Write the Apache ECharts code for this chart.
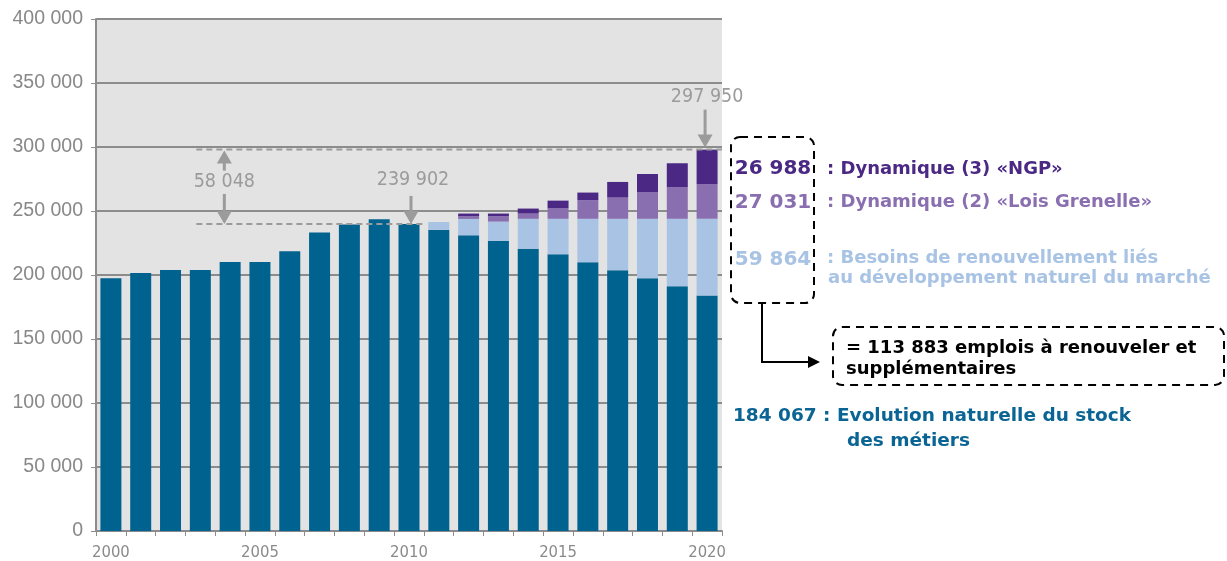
<!DOCTYPE html>
<html>
<head>
<meta charset="utf-8">
<script src="https://cdn.jsdelivr.net/npm/echarts@6/dist/echarts.min.js"></script>
<style>
  html, body { margin: 0; padding: 0; background: #ffffff; }
  #chart { width: 1227px; height: 561px; }
</style>
</head>
<body>
<div id="chart"></div>
<script>
// ---- Data ----
const years = ['2000','2001','2002','2003','2004','2005','2006','2007','2008','2009','2010',
               '2011','2012','2013','2014','2015','2016','2017','2018','2019','2020'];
// Evolution naturelle du stock des métiers
const stock = [197400, 201500, 203900, 203900, 210200, 210200, 218600, 233300, 239500, 243500, 239902,
               235200, 231000, 226600, 220600, 216200, 209900, 203700, 197400, 191200, 184067];
// Besoins de renouvellement liés au développement naturel du marché
const renewal = [null, null, null, null, null, null, null, null, null, null, null,
                 6200, 12800, 15100, 23300, 27700, 34000, 40200, 46500, 52700, 59864];
// Dynamique (2) « Lois Grenelle »
const grenelle = [null, null, null, null, null, null, null, null, null, null, null,
                  null, 2100, 4200, 4100, 8200, 14500, 16600, 20700, 24600, 27031];
// Dynamique (3) « NGP »
const ngp = [null, null, null, null, null, null, null, null, null, null, null,
             null, 2100, 2100, 3900, 6000, 6000, 12200, 14300, 18800, 26988];
const yTicks = [0, 50000, 100000, 150000, 200000, 250000, 300000, 350000, 400000];
const labelYears = ['2000', '2005', '2010', '2015', '2020'];

const legendTexts = {
  ngp: ': Dynamique (3) «NGP»',
  grenelle: ': Dynamique (2) «Lois Grenelle»',
  renewal1: ': Besoins de renouvellement liés',
  renewal2: 'au développement naturel du marché',
  stock1: ' : Evolution naturelle du stock',
  stock2: 'des métiers',
  total1: ' emplois à renouveler et',
  total2: 'supplémentaires'
};

// ---- Helpers ----
const fmt = v => String(Math.round(v)).replace(/\B(?=(\d{3})+(?!\d))/g, ' ');
const C_STOCK = '#00628f', C_REN = '#a8c3e3', C_GREN = '#8a6fb0', C_NGP = '#4a2884';
const GRAY = '#9b9b9b';
const NARROW = '"DejaVu Sans Condensed", "Liberation Sans Narrow", "Roboto", sans-serif';

const chart = echarts.init(document.getElementById('chart'), null, { renderer: 'canvas' });

const barCommon = { type: 'bar', stack: 'total', barWidth: 21 };

chart.setOption({
  animation: false,
  backgroundColor: '#ffffff',
  grid: { left: 96, right: 505, top: 19, bottom: 30, show: true, backgroundColor: '#e3e3e3', borderWidth: 0 },
  xAxis: {
    type: 'category', data: years, boundaryGap: true,
    axisLine: { lineStyle: { color: '#8c8c8c', width: 2 } },
    axisTick: { show: true, interval: 0, length: 5, lineStyle: { color: '#8c8c8c', width: 1 } },
    axisLabel: {
      interval: 0, margin: 13,
      formatter: v => labelYears.indexOf(v) >= 0 ? v : '',
      color: '#8a8a8a', fontFamily: NARROW, fontSize: 16.5
    }
  },
  yAxis: {
    type: 'value', min: 0, max: 400000, interval: 50000,
    axisLine: { show: true, lineStyle: { color: '#8c8c8c', width: 2 } },
    axisTick: { show: true, length: 5, lineStyle: { color: '#8c8c8c', width: 1 } },
    axisLabel: { formatter: v => fmt(v), color: '#888888', fontFamily: '"Liberation Sans", Arial, sans-serif', fontSize: 19.5, margin: 13 },
    splitLine: { show: true, lineStyle: { color: '#8c8c8c', width: 2 } }
  },
  series: [
    Object.assign({}, barCommon, { name: 'stock', data: stock, itemStyle: { color: C_STOCK } }),
    Object.assign({}, barCommon, { name: 'renewal', data: renewal, itemStyle: { color: C_REN } }),
    Object.assign({}, barCommon, { name: 'grenelle', data: grenelle, itemStyle: { color: C_GREN } }),
    Object.assign({}, barCommon, { name: 'ngp', data: ngp, itemStyle: { color: C_NGP } })
  ]
});

// ---- Annotations computed from scales ----
const last = years.length - 1;
const total2020 = stock[last] + renewal[last] + grenelle[last] + ngp[last];
const ref2010 = stock[years.indexOf('2010')];
const yPx = v => chart.convertToPixel({ yAxisIndex: 0 }, v);
const xPx = c => chart.convertToPixel({ xAxisIndex: 0 }, c);

const yTop = yPx(total2020), yBot = yPx(ref2010);
const dashStart = xPx('2003') - 4;
const plotRight = 722;
const g = [];
const dashStyle = { stroke: GRAY, lineWidth: 2, lineDash: [6, 4] };
g.push({ type: 'line', shape: { x1: dashStart, y1: yTop, x2: plotRight, y2: yTop }, style: dashStyle, z: 10 });
g.push({ type: 'line', shape: { x1: dashStart, y1: yBot, x2: xPx('2010') + 14, y2: yBot }, style: dashStyle, z: 10 });

function downArrow(x, yStart, yTip) {
  g.push({ type: 'line', shape: { x1: x, y1: yStart, x2: x, y2: yTip - 11 }, style: { stroke: GRAY, lineWidth: 3 }, z: 11 });
  g.push({ type: 'polygon', shape: { points: [[x - 7.5, yTip - 13], [x + 7.5, yTip - 13], [x, yTip]] }, style: { fill: GRAY }, z: 11 });
}
function upArrow(x, yStart, yTip) {
  g.push({ type: 'line', shape: { x1: x, y1: yStart, x2: x, y2: yTip + 11 }, style: { stroke: GRAY, lineWidth: 3 }, z: 11 });
  g.push({ type: 'polygon', shape: { points: [[x - 7.5, yTip + 13], [x + 7.5, yTip + 13], [x, yTip]] }, style: { fill: GRAY }, z: 11 });
}
const annFont = { fill: GRAY, fontFamily: NARROW, fontSize: 19.5, textAlign: 'center', textVerticalAlign: 'middle' };

// 297 950
const x2020 = xPx('2020') - 2;
g.push({ type: 'text', x: x2020 + 2, y: yTop - 53, style: Object.assign({ text: fmt(total2020) }, annFont), z: 12 });
downArrow(x2020, yTop - 40, yTop - 2);
// 239 902
const x2010 = xPx('2010') + 2;
g.push({ type: 'text', x: x2010 + 2, y: yBot - 44, style: Object.assign({ text: fmt(ref2010) }, annFont), z: 12 });
downArrow(x2010, yBot - 28, yBot);
// 58 048
const xd = dashStart + 28;
upArrow(xd, yTop + 21, yTop + 1);
g.push({ type: 'text', x: xd, y: yTop + 32, style: Object.assign({ text: fmt(total2020 - ref2010) }, annFont), z: 12 });
downArrow(xd, yBot - 30, yBot);

// ---- Right-side legend block ----
const midNgp = yPx(total2020 - ngp[last] / 2);
const midGren = yPx(stock[last] + renewal[last] + grenelle[last] / 2);
const midRen = yPx(stock[last] + renewal[last] / 2);
const midStock = yPx(stock[last] / 2);
const LF = '"DejaVu Sans", sans-serif';
function txt(x, y, text, color, size, align) {
  g.push({ type: 'text', x: x, y: y, style: { text: text, fill: color, fontFamily: LF, fontWeight: 'bold', fontSize: size, textAlign: align || 'left', textVerticalAlign: 'middle' }, z: 12 });
}
txt(773, midNgp + 2, fmt(ngp[last]), C_NGP, 20, 'center');
txt(827, midNgp + 2, legendTexts.ngp, C_NGP, 18);
txt(773, midGren + 1, fmt(grenelle[last]), C_GREN, 20, 'center');
txt(827, midGren + 1, legendTexts.grenelle, C_GREN, 18);
txt(773, midRen + 3, fmt(renewal[last]), C_REN, 20, 'center');
txt(827, midRen + 1, legendTexts.renewal1, C_REN, 18);
txt(828, midRen + 21, legendTexts.renewal2, C_REN, 18);
txt(733, midStock + 3, fmt(stock[last]) + legendTexts.stock1, '#0a6494', 18.5);
txt(847, midStock + 28, legendTexts.stock2, '#0a6494', 18.5);

const added = renewal[last] + grenelle[last] + ngp[last];
txt(846, 348, '= ' + fmt(added) + legendTexts.total1, '#000000', 18);
txt(846, 369, legendTexts.total2, '#000000', 18);

// dashed boxes
const boxStyle = { fill: 'none', stroke: '#000000', lineWidth: 2, lineDash: [8, 6] };
g.push({ type: 'rect', shape: { x: 731, y: 137, width: 83, height: 166, r: 9 }, style: boxStyle, z: 12 });
g.push({ type: 'rect', shape: { x: 833, y: 327, width: 391, height: 58, r: 9 }, style: boxStyle, z: 12 });
// connector arrow
g.push({ type: 'polyline', shape: { points: [[762, 304], [762, 362], [809, 362]] }, style: { stroke: '#000000', lineWidth: 2, fill: 'none' }, z: 12 });
g.push({ type: 'polygon', shape: { points: [[808, 356], [808, 368], [820, 362]] }, style: { fill: '#000000' }, z: 12 });

chart.setOption({ graphic: g });
</script>
</body>
</html>
